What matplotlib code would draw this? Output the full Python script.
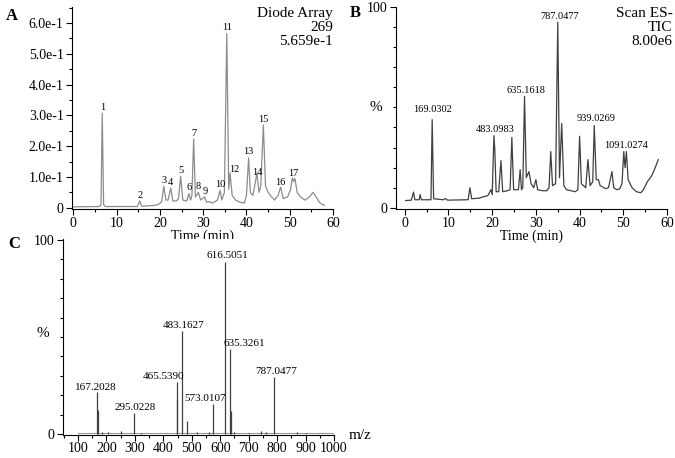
import numpy as np
import matplotlib
matplotlib.use('Agg')
import matplotlib.pyplot as plt
from matplotlib.ticker import MultipleLocator

plt.rcParams['font.family'] = ['Liberation Serif', 'DejaVu Serif']

# Panel A: diode array trace (time in min, absorbance)
a_time = [0.0, 6.0, 6.4, 6.68, 7.0, 7.4, 14.8, 15.35, 15.8, 17.0, 18.0, 19.0, 19.8,
          20.4, 20.9, 21.4, 21.9, 22.5, 23.0, 23.8, 24.3, 24.8, 25.3, 26.2, 26.7,
          27.1, 27.4, 27.8, 28.2, 28.9, 29.4, 30.3, 30.8, 31.5, 32.0, 32.5, 33.3,
          33.9, 34.3, 34.9, 35.45, 35.9, 36.2, 36.7, 37.5, 38.5, 39.5, 40.0, 40.5,
          40.9, 41.5, 42.4, 42.9, 43.3, 43.9, 44.4, 45.0, 45.8, 46.5, 47.3, 47.9,
          48.5, 49.5, 50.2, 50.6, 50.9, 51.2, 51.7, 52.5, 53.5, 54.5, 55.4, 56.3,
          57.0, 58.0]
a_abs = [0.003, 0.004, 0.01, 0.307, 0.01, 0.004, 0.004, 0.022, 0.005, 0.006, 0.007,
         0.008, 0.012, 0.02, 0.070, 0.025, 0.025, 0.064, 0.022, 0.022, 0.03, 0.102,
         0.025, 0.022, 0.046, 0.025, 0.04, 0.223, 0.035, 0.050, 0.025, 0.035, 0.018,
         0.02, 0.015, 0.018, 0.025, 0.056, 0.025, 0.05, 0.566, 0.06, 0.113, 0.04,
         0.025, 0.018, 0.015, 0.04, 0.162, 0.05, 0.04, 0.111, 0.05, 0.07, 0.269,
         0.07, 0.05, 0.035, 0.025, 0.04, 0.067, 0.03, 0.035, 0.06, 0.097, 0.085,
         0.095, 0.05, 0.035, 0.025, 0.035, 0.05, 0.03, 0.015, 0.008]
a_peak_no = ['1', '2', '3', '4', '5', '6', '7', '8', '9', '10', '11', '12', '13',
             '14', '15', '16', '17']
a_peak_t = [6.68, 15.35, 20.9, 22.5, 24.8, 26.7, 27.8, 28.9, 30.4, 33.9, 35.45,
            37.2, 40.5, 42.5, 44.0, 47.9, 50.9]
a_peak_h = [0.307, 0.022, 0.070, 0.064, 0.102, 0.046, 0.223, 0.05, 0.035, 0.056,
            0.566, 0.106, 0.162, 0.095, 0.269, 0.062, 0.093]
a_ytick_vals = [0, 0.1, 0.2, 0.3, 0.4, 0.5, 0.6]
a_ytick_labels = ['0', '1.0e-1', '2.0e-1', '3.0e-1', '4.0e-1', '5.0e-1', '6.0e-1']

# Panel B: TIC trace (time in min, %)
b_time = [0.2, 1.5, 2.0, 2.3, 3.3, 3.5, 3.8, 6.0, 6.27, 6.6, 8.8, 9.3, 9.8, 14.5,
          14.9, 15.3, 17.0, 18.0, 19.0, 19.7, 20.0, 20.4, 20.6, 20.9, 21.5, 22.0,
          22.4, 23.5, 24.1, 24.5, 24.9, 26.0, 26.4, 26.7, 27.0, 27.4, 27.8, 28.4,
          28.9, 29.5, 30.0, 30.4, 31.5, 32.5, 33.0, 33.4, 33.8, 34.5, 35.0, 35.4,
          35.9, 36.4, 37.0, 38.0, 39.0, 39.6, 40.0, 40.4, 41.4, 41.9, 42.4, 43.0,
          43.35, 43.8, 44.3, 44.7, 46.0, 46.6, 47.4, 47.8, 48.5, 49.2, 49.7, 50.1,
          50.4, 50.7, 51.1, 52.0, 53.0, 54.0, 54.6, 55.5, 56.5, 57.3, 58.0]
b_pct = [3.6, 3.8, 7.8, 4.0, 4.0, 6.6, 4.0, 4.0, 43.9, 4.5, 4.0, 4.6, 3.8, 4.0,
         10.0, 4.5, 4.8, 5.5, 6.0, 9.0, 6.5, 36.0, 29.0, 8.0, 8.0, 23.5, 8.0, 8.5,
         9.0, 35.0, 9.0, 9.0, 19.0, 9.0, 10.0, 55.5, 15.0, 18.0, 12.0, 10.0, 14.0,
         9.0, 8.5, 8.5, 10.0, 28.0, 11.0, 12.0, 92.4, 15.0, 42.0, 11.0, 9.0, 8.5,
         8.0, 9.0, 35.6, 12.0, 10.0, 24.0, 11.0, 13.0, 41.0, 14.0, 14.0, 11.0, 9.5,
         10.0, 18.0, 10.0, 9.0, 9.5, 12.0, 28.0, 20.0, 28.0, 14.0, 10.0, 8.0, 7.5,
         9.0, 13.0, 16.0, 20.0, 24.0]
b_labels = ['169.0302', '483.0983', '635.1618', '787.0477', '939.0269', '1091.0274']
b_label_t = [6.35, 20.7, 27.75, 35.5, 43.8, 50.7]
b_label_h = [46.5, 36.5, 56.0, 93.0, 42.0, 29.0]

# Panel C: mass spectrum sticks (m/z, %)
c_mz = [168, 170, 185, 205, 250, 295.7, 320, 448, 449.5, 465.6, 484.4, 520, 560,
        574.6, 618, 635.6, 637, 650, 700, 745, 760, 789, 870, 900]
c_int = [21.4, 12.5, 1.0, 0.8, 1.5, 10.9, 0.6, 26.8, 18.0, 53.2, 6.7, 0.8, 0.8,
         15.6, 88.8, 44.0, 12.0, 1.2, 0.6, 1.5, 0.8, 29.4, 1.0, 0.5]
c_base_mz = [100, 1000]
c_base_int = [0.5, 0.5]
c_labels = ['167.2028', '295.0228', '465.5390', '483.1627', '573.0107', '616.5051',
            '635.3261', '787.0477']
c_label_mz = [161, 300, 399, 471, 548, 625, 686, 795]
c_label_h = [21.6, 11.4, 27.2, 53.5, 15.8, 89.5, 44.5, 29.8]

fig = plt.figure(figsize=(6.75, 4.58), dpi=100)
axA = fig.add_axes([0.1067, 0.5437, 0.3867, 0.441])
axB = fig.add_axes([0.5867, 0.5437, 0.4015, 0.441])
axC = fig.add_axes([0.0933, 0.050, 0.4015, 0.428])

for ax in (axA, axB, axC):
    ax.spines['top'].set_visible(False)
    ax.spines['right'].set_visible(False)
    ax.tick_params(which='both', direction='out', labelsize=10, width=0.8)
    ax.tick_params(which='major', length=4)
    ax.tick_params(which='minor', length=2.5)
    ax.tick_params(axis='x', pad=1.5)
    ax.tick_params(axis='y', pad=2)

# A
axA.plot(a_time, a_abs, color='#8c8c8c', lw=0.9)
for lab, t, h in zip(a_peak_no, a_peak_t, a_peak_h):
    axA.annotate(lab, (t, h), xytext=(0, 1), textcoords='offset points',
                 ha='center', va='bottom', fontsize=7.5)
axA.set_xlim(-0.3, 60)
axA.set_ylim(-0.004, 0.652)
axA.set_xticks(range(0, 61, 10))
axA.xaxis.set_minor_locator(MultipleLocator(5))
axA.set_yticks(a_ytick_vals)
axA.set_yticklabels(a_ytick_labels)
axA.yaxis.set_minor_locator(MultipleLocator(0.05))
axA.set_xlabel('Time (min)', fontsize=10, labelpad=0)
fig.text(0.493, 0.985, 'Diode Array\n269\n5.659e-1', ha='right', va='top',
         fontsize=11, linespacing=1.1)

# B
axB.plot(b_time, b_pct, color='#404040', lw=0.9)
for lab, t, h in zip(b_labels, b_label_t, b_label_h):
    axB.text(t, h, lab, ha='center', va='bottom', fontsize=7.5)
axB.set_xlim(-2, 60)
axB.set_ylim(-0.6, 100)
axB.set_xticks(range(0, 61, 10))
axB.xaxis.set_minor_locator(MultipleLocator(5))
axB.set_yticks([0, 100])
axB.yaxis.set_minor_locator(MultipleLocator(10))
axB.set_xlabel('Time (min)', fontsize=10, labelpad=0)
axB.text(-0.05, 50, '%', transform=axB.get_yaxis_transform(), ha='right',
         va='center', fontsize=11)
fig.text(0.996, 0.985, 'Scan ES-\nTIC\n8.00e6', ha='right', va='top',
         fontsize=11, linespacing=1.1)

# C
axC.plot(c_base_mz, c_base_int, color='#999999', lw=0.8)
axC.vlines(c_mz, 0, c_int, color='#404040', lw=0.9)
for lab, m, h in zip(c_labels, c_label_mz, c_label_h):
    axC.text(m, h, lab, ha='center', va='bottom', fontsize=8)
axC.set_xlim(47, 1000)
axC.set_ylim(-0.6, 100.5)
axC.set_xticks(range(100, 1001, 100))
axC.xaxis.set_minor_locator(MultipleLocator(50))
axC.tick_params(axis='x', labelsize=10, pad=1)
axC.set_yticks([0, 100])
axC.yaxis.set_minor_locator(MultipleLocator(10))
axC.text(-0.05, 52, '%', transform=axC.get_yaxis_transform(), ha='right',
         va='center', fontsize=11)
fig.text(0.533, 0.036, 'm/z', ha='center', va='bottom', fontsize=11)

fig.text(0.008, 0.965, 'A', fontsize=12, fontweight='bold', va='center')
fig.text(0.518, 0.972, 'B', fontsize=12, fontweight='bold', va='center')
fig.text(0.012, 0.468, 'C', fontsize=12, fontweight='bold', va='center')

fig.savefig('out.png', dpi=100)
